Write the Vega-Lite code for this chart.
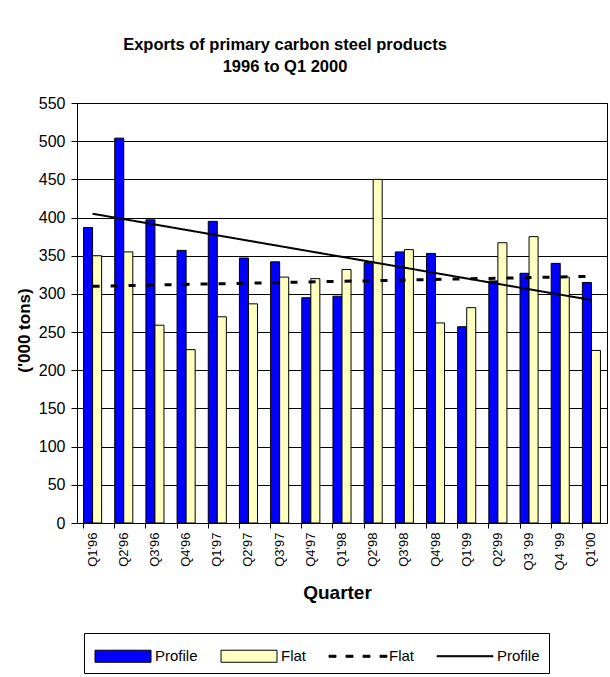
{
  "$schema": "https://vega.github.io/schema/vega-lite/v6.json",
  "width": 530,
  "height": 420,
  "autosize": {"type": "none"},
  "padding": {"left": 77, "top": 103, "right": 3, "bottom": 154},
  "background": "white",
  "config": {
    "font": "Liberation Sans",
    "view": {"stroke": "black", "strokeWidth": 1}
  },
  "title": {
    "text": ["Exports of primary carbon steel products", "1996 to Q1 2000"],
    "fontSize": 16.5,
    "fontWeight": "bold",
    "color": "black",
    "anchor": "middle",
    "frame": "group",
    "dx": -57,
    "lineHeight": 22,
    "offset": 20
  },
  "datasets": {
    "bars": [
      {"quarter": "Q1'96", "series": "Profile", "exports": 387},
      {"quarter": "Q1'96", "series": "Flat", "exports": 350},
      {"quarter": "Q2'96", "series": "Profile", "exports": 504},
      {"quarter": "Q2'96", "series": "Flat", "exports": 355},
      {"quarter": "Q3'96", "series": "Profile", "exports": 397},
      {"quarter": "Q3'96", "series": "Flat", "exports": 259},
      {"quarter": "Q4'96", "series": "Profile", "exports": 357},
      {"quarter": "Q4'96", "series": "Flat", "exports": 227},
      {"quarter": "Q1'97", "series": "Profile", "exports": 395},
      {"quarter": "Q1'97", "series": "Flat", "exports": 270},
      {"quarter": "Q2'97", "series": "Profile", "exports": 347},
      {"quarter": "Q2'97", "series": "Flat", "exports": 287},
      {"quarter": "Q3'97", "series": "Profile", "exports": 342},
      {"quarter": "Q3'97", "series": "Flat", "exports": 322},
      {"quarter": "Q4'97", "series": "Profile", "exports": 295},
      {"quarter": "Q4'97", "series": "Flat", "exports": 320},
      {"quarter": "Q1'98", "series": "Profile", "exports": 297},
      {"quarter": "Q1'98", "series": "Flat", "exports": 332},
      {"quarter": "Q2'98", "series": "Profile", "exports": 341},
      {"quarter": "Q2'98", "series": "Flat", "exports": 450},
      {"quarter": "Q3'98", "series": "Profile", "exports": 355},
      {"quarter": "Q3'98", "series": "Flat", "exports": 358},
      {"quarter": "Q4'98", "series": "Profile", "exports": 353},
      {"quarter": "Q4'98", "series": "Flat", "exports": 262},
      {"quarter": "Q1'99", "series": "Profile", "exports": 257},
      {"quarter": "Q1'99", "series": "Flat", "exports": 282},
      {"quarter": "Q2'99", "series": "Profile", "exports": 317},
      {"quarter": "Q2'99", "series": "Flat", "exports": 367},
      {"quarter": "Q3 '99", "series": "Profile", "exports": 327},
      {"quarter": "Q3 '99", "series": "Flat", "exports": 375},
      {"quarter": "Q4 '99", "series": "Profile", "exports": 340},
      {"quarter": "Q4 '99", "series": "Flat", "exports": 322},
      {"quarter": "Q1'00", "series": "Profile", "exports": 315},
      {"quarter": "Q1'00", "series": "Flat", "exports": 226}
    ],
    "trend": [
      {"quarter": "Q1'96", "series": "Flat trend", "trend": 310},
      {"quarter": "Q1'00", "series": "Flat trend", "trend": 323},
      {"quarter": "Q1'96", "series": "Profile trend", "trend": 405},
      {"quarter": "Q1'00", "series": "Profile trend", "trend": 292}
    ]
  },
  "layer": [
    {
      "data": {"name": "bars"},
      "mark": {"type": "bar", "stroke": "black", "strokeWidth": 1},
      "encoding": {
        "x": {
          "field": "quarter",
          "type": "nominal",
          "scale": {
            "domain": ["Q1'96", "Q2'96", "Q3'96", "Q4'96", "Q1'97", "Q2'97", "Q3'97", "Q4'97", "Q1'98", "Q2'98", "Q3'98", "Q4'98", "Q1'99", "Q2'99", "Q3 '99", "Q4 '99", "Q1'00"],
            "paddingInner": 0.42,
            "paddingOuter": 0.21
          },
          "axis": {
            "title": "Quarter",
            "titleFontSize": 19,
            "titleFontWeight": "bold",
            "titleColor": "black",
            "titleX": 260,
            "titleY": 75,
            "titleBaseline": "alphabetic",
            "titleAlign": "center",
            "labelAngle": 270,
            "labelAlign": "right",
            "labelBaseline": "middle",
            "labelFontSize": 13,
            "labelColor": "black",
            "labelPadding": 4,
            "tickSize": 5,
            "tickColor": "black",
            "bandPosition": 0,
            "domain": false
          }
        },
        "xOffset": {"field": "series", "type": "nominal", "scale": {"domain": ["Profile", "Flat"]}},
        "y": {
          "field": "exports",
          "type": "quantitative",
          "scale": {"domain": [0, 550], "nice": false},
          "axis": {
            "title": "('000 tons)",
            "titleFontSize": 17,
            "titleFontWeight": "bold",
            "titleColor": "black",
            "titlePadding": 5,
            "titleY": 227,
            "tickCount": 11,
            "labelFontSize": 16,
            "labelColor": "black",
            "labelPadding": 6,
            "tickSize": 6,
            "tickColor": "black",
            "gridColor": "black",
            "gridOpacity": 1,
            "domainColor": "black"
          }
        },
        "color": {
          "field": "series",
          "type": "nominal",
          "scale": {
            "domain": ["Profile", "Flat", "Flat trend", "Profile trend"],
            "range": ["#0000FF", "#FFFFC0", "#000000", "#000000"]
          },
          "legend": {
            "title": null,
            "orient": "none",
            "legendX": 7,
            "legendY": 530,
            "direction": "horizontal",
            "padding": 8.5,
            "strokeColor": "black",
            "fillColor": "white",
            "columnPadding": 20,
            "labelFontSize": 15,
            "labelColor": "black",
            "symbolSize": 784,
            "symbolOffset": 16,
            "labelOffset": 17.5,
            "symbolOpacity": 1,
            "symbolStrokeColor": "black",
            "symbolStrokeWidth": 1,
            "symbolType": {"expr": "datum.value == 'Flat trend' ? 'M-2,-0.071H-1.5V0.071H-2Z M-0.786,-0.071H-0.286V0.071H-0.786Z M0.429,-0.071H0.929V0.071H0.429Z M1.643,-0.071H2.143V0.071H1.643Z' : (datum.value == 'Profile trend' ? 'M-2,-0.036H2V0.036H-2Z' : 'M-2,-0.43H2V0.43H-2Z')"},
            "labelExpr": "replace(datum.label, ' trend', '')"
          }
        }
      }
    },
    {
      "data": {"name": "trend"},
      "mark": {"type": "line", "stroke": "black"},
      "encoding": {
        "x": {"field": "quarter", "type": "nominal"},
        "y": {"field": "trend", "type": "quantitative"},
        "detail": {"field": "series", "type": "nominal"},
        "strokeDash": {"condition": {"test": "datum.series == 'Flat trend'", "value": [7, 11]}, "value": [1, 0]},
        "strokeWidth": {"condition": {"test": "datum.series == 'Flat trend'", "value": 3}, "value": 2}
      }
    }
  ]
}
